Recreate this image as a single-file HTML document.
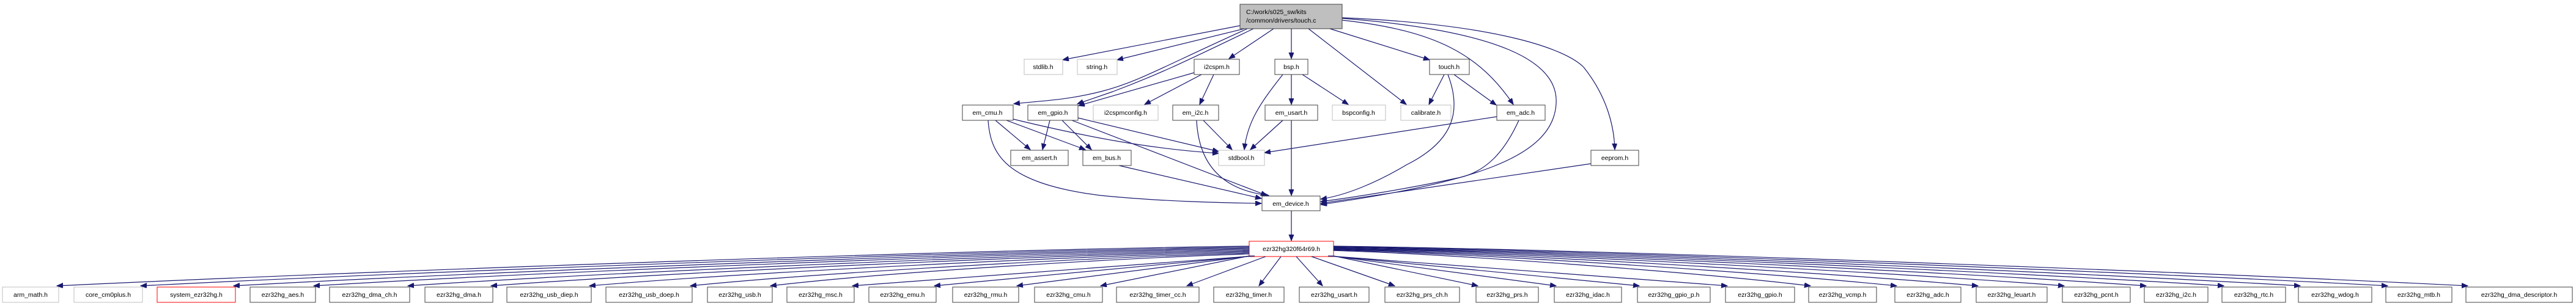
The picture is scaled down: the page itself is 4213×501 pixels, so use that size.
<!DOCTYPE html>
<html><head><meta charset="utf-8"><style>
html,body{margin:0;padding:0;background:#fff;}
svg{display:block}
text{font-family:"Liberation Sans",sans-serif;font-size:10.5px;fill:#000}
.e{fill:none;stroke:#191970;stroke-width:1.2}
.g{fill:#fff;stroke:#bfbfbf;stroke-width:1}
.b{fill:#fff;stroke:#404040;stroke-width:1}
.r{fill:#fff;stroke:#ff0000;stroke-width:1}
</style></head><body>
<svg id="s" width="4213" height="501" viewBox="0 0 4213 501" xmlns="http://www.w3.org/2000/svg">
<defs><marker id="a" markerUnits="userSpaceOnUse" markerWidth="11" markerHeight="9" refX="10" refY="4" orient="auto"><path d="M0,0 L10,4 L0,8 z" fill="#191970" stroke="#191970"/></marker></defs>
<g id="edges"></g>
<g id="nodes">
<rect x="2028" y="7" width="167" height="40" fill="#bfbfbf" stroke="#404040"/>
<text x="2038" y="23">C:/work/s025_sw/kits</text><text x="2038" y="37">/common/drivers/touch.c</text>
<rect class="g" x="1675" y="97" width="63" height="25"/><text x="1706" y="113" text-anchor="middle">stdlib.h</text>
<rect class="g" x="1762" y="97" width="65" height="25"/><text x="1794" y="113" text-anchor="middle">string.h</text>
<rect class="b" x="1953" y="97" width="74" height="25"/><text x="1990" y="113" text-anchor="middle">i2cspm.h</text>
<rect class="b" x="2085" y="97" width="54" height="25"/><text x="2112" y="113" text-anchor="middle">bsp.h</text>
<rect class="b" x="2338" y="97" width="65" height="25"/><text x="2370" y="113" text-anchor="middle">touch.h</text>
<rect class="b" x="1574" y="172" width="83" height="25"/><text x="1615" y="188" text-anchor="middle">em_cmu.h</text>
<rect class="b" x="1681" y="172" width="82" height="25"/><text x="1722" y="188" text-anchor="middle">em_gpio.h</text>
<rect class="g" x="1788" y="172" width="106" height="25"/><text x="1841" y="188" text-anchor="middle">i2cspmconfig.h</text>
<rect class="b" x="1918" y="172" width="75" height="25"/><text x="1955" y="188" text-anchor="middle">em_i2c.h</text>
<rect class="b" x="2069" y="172" width="86" height="25"/><text x="2112" y="188" text-anchor="middle">em_usart.h</text>
<rect class="g" x="2179" y="172" width="87" height="25"/><text x="2222" y="188" text-anchor="middle">bspconfig.h</text>
<rect class="g" x="2291" y="172" width="82" height="25"/><text x="2332" y="188" text-anchor="middle">calibrate.h</text>
<rect class="b" x="2448" y="172" width="79" height="25"/><text x="2487" y="188" text-anchor="middle">em_adc.h</text>
<rect class="b" x="1653" y="246" width="94" height="25"/><text x="1700" y="262" text-anchor="middle">em_assert.h</text>
<rect class="b" x="1771" y="246" width="79" height="25"/><text x="1810" y="262" text-anchor="middle">em_bus.h</text>
<rect class="g" x="1993" y="246" width="75" height="25"/><text x="2030" y="262" text-anchor="middle">stdbool.h</text>
<rect class="b" x="2602" y="246" width="78" height="25"/><text x="2641" y="262" text-anchor="middle">eeprom.h</text>
<rect class="b" x="2064" y="321" width="95" height="24"/><text x="2111" y="337" text-anchor="middle">em_device.h</text>
<rect class="r" x="2043" y="395" width="138" height="25"/><text x="2112" y="411" text-anchor="middle">ezr32hg320f64r69.h</text>
</g>
<g id="bottom"></g>
</svg>
<script>
var NS="http://www.w3.org/2000/svg";
function P(d,par){var p=document.createElementNS(NS,"path");p.setAttribute("d",d);p.setAttribute("class","e");p.setAttribute("marker-end","url(#a)");document.getElementById(par||"edges").appendChild(p);}
[
"M2028,42 L1738,98","M2035,47 L1827,98",
"M2040,47 C1900,110 1860,135 1800,150 S1700,165 1658,170",
"M2050,47 C1950,95 1900,120 1820,150 L1762,170",
"M1953,119 L1764,173",
"M2083,47 L2010,96","M2112,47 L2112,96","M2140,47 L2300,171","M2175,47 L2338,98",
"M2195,33 C2350,50 2420,90 2475,171",
"M2195,30 C2450,50 2550,100 2545,170 C2540,260 2400,300 2160,335",
"M2195,29 C2450,40 2560,80 2590,110 C2630,160 2640,210 2641,245",
"M1965,122 L1872,171","M1985,122 L1962,171",
"M2098,122 C2060,170 2040,200 2035,245","M2112,122 L2112,171","M2130,122 L2205,171",
"M1968,197 L2015,245","M1957,197 C1960,260 1990,310 2075,320",
"M2098,197 L2045,245","M2112,197 L2112,320",
"M1717,197 L1705,245","M1737,197 L1785,245","M1763,193 L1993,248","M1753,197 L2072,320",
"M1628,197 L1685,245","M1646,197 L1775,245","M1657,195 C1800,230 1900,245 1993,251",
"M1616,197 C1620,250 1640,300 1800,320 C1900,330 2000,332 2063,333",
"M1830,271 L2063,325",
"M2362,122 L2337,171","M2378,122 L2447,172",
"M2368,122 C2390,180 2380,230 2300,270 C2250,300 2200,320 2160,326",
"M2448,191 L2068,250",
"M2484,197 C2460,250 2430,280 2390,290 C2300,310 2200,325 2160,330",
"M2602,268 L2160,333","M2112,345 L2112,394"
].forEach(function(d){P(d);});
</script>
<script>
var B=[["arm_math.h",4,96,"g"],["core_cm0plus.h",121,233,"g"],["system_ezr32hg.h",257,385,"r"],["ezr32hg_aes.h",409,516],["ezr32hg_dma_ch.h",539,670],["ezr32hg_dma.h",695,806],["ezr32hg_usb_diep.h",829,967],["ezr32hg_usb_doep.h",991,1132],["ezr32hg_usb.h",1157,1263],["ezr32hg_msc.h",1287,1397],["ezr32hg_emu.h",1421,1531],["ezr32hg_rmu.h",1558,1666],["ezr32hg_cmu.h",1692,1803],["ezr32hg_timer_cc.h",1826,1961],["ezr32hg_timer.h",1985,2100],["ezr32hg_usart.h",2125,2239],["ezr32hg_prs_ch.h",2265,2387],["ezr32hg_prs.h",2414,2516],["ezr32hg_idac.h",2542,2652],["ezr32hg_gpio_p.h",2678,2797],["ezr32hg_gpio.h",2822,2935],["ezr32hg_vcmp.h",2958,3069],["ezr32hg_adc.h",3099,3207],["ezr32hg_leuart.h",3232,3348],["ezr32hg_pcnt.h",3373,3484],["ezr32hg_i2c.h",3507,3611],["ezr32hg_rtc.h",3634,3738],["ezr32hg_wdog.h",3759,3879],["ezr32hg_mtb.h",3902,4010],["ezr32hg_dma_descriptor.h",4033,4207]];
B.forEach(function(n,i){
 var l=n[1],r=n[2],ex,sx,sy,d,dist;
 if(r<1900){ex=r-3;dist=2043-ex;
  if(dist<700){sx=2043+ (12-i)*3; sy=419; d="M"+sx+","+sy+" L"+ex+",468";}
  else {sx=2043; sy=403+ (i)*1.6;
   d="M"+sx+","+sy+" C"+(sx-dist*0.25)+","+(sy+6)+" "+(ex+dist*0.25)+","+(445)+" "+ex+",468";}}
 else if(l>2400){ex=l+3;dist=ex-2181;
  if(dist<700){sx=2181-(i-17)*3; sy=419; d="M"+sx+","+sy+" L"+ex+",468";}
  else {sx=2181; sy=403+(29-i)*0.9;
   d="M"+sx+","+sy+" C"+(sx+dist*0.25)+","+(sy+6)+" "+(ex-dist*0.25)+","+(445)+" "+ex+",468";}}
 else {ex=(i==13)?r-20:(i==14?2059:(i==15?2163:l+16));sx=2070+(i-13)*25;
  d="M"+sx+",420 L"+ex+",468";}
 P(d,"bottom");
 var g=document.getElementById("bottom");
 var rc=document.createElementNS(NS,"rect");rc.setAttribute("x",l);rc.setAttribute("y",470);rc.setAttribute("width",r-l);rc.setAttribute("height",25);rc.setAttribute("class",n[3]||"b");g.appendChild(rc);
});
</script>
<div style="position:absolute;left:0;top:0;width:4213px;height:501px;pointer-events:none;font-family:'Liberation Sans',sans-serif;font-size:10.5px;">
<span style="position:absolute;top:477px;left:4px;width:92px;text-align:center">arm_math.h</span>
<span style="position:absolute;top:477px;left:121px;width:112px;text-align:center">core_cm0plus.h</span>
<span style="position:absolute;top:477px;left:257px;width:128px;text-align:center">system_ezr32hg.h</span>
<span style="position:absolute;top:477px;left:409px;width:107px;text-align:center">ezr32hg_aes.h</span>
<span style="position:absolute;top:477px;left:539px;width:131px;text-align:center">ezr32hg_dma_ch.h</span>
<span style="position:absolute;top:477px;left:695px;width:111px;text-align:center">ezr32hg_dma.h</span>
<span style="position:absolute;top:477px;left:829px;width:138px;text-align:center">ezr32hg_usb_diep.h</span>
<span style="position:absolute;top:477px;left:991px;width:141px;text-align:center">ezr32hg_usb_doep.h</span>
<span style="position:absolute;top:477px;left:1157px;width:106px;text-align:center">ezr32hg_usb.h</span>
<span style="position:absolute;top:477px;left:1287px;width:110px;text-align:center">ezr32hg_msc.h</span>
<span style="position:absolute;top:477px;left:1421px;width:110px;text-align:center">ezr32hg_emu.h</span>
<span style="position:absolute;top:477px;left:1558px;width:108px;text-align:center">ezr32hg_rmu.h</span>
<span style="position:absolute;top:477px;left:1692px;width:111px;text-align:center">ezr32hg_cmu.h</span>
<span style="position:absolute;top:477px;left:1826px;width:135px;text-align:center">ezr32hg_timer_cc.h</span>
<span style="position:absolute;top:477px;left:1985px;width:115px;text-align:center">ezr32hg_timer.h</span>
<span style="position:absolute;top:477px;left:2125px;width:114px;text-align:center">ezr32hg_usart.h</span>
<span style="position:absolute;top:477px;left:2265px;width:122px;text-align:center">ezr32hg_prs_ch.h</span>
<span style="position:absolute;top:477px;left:2414px;width:102px;text-align:center">ezr32hg_prs.h</span>
<span style="position:absolute;top:477px;left:2542px;width:110px;text-align:center">ezr32hg_idac.h</span>
<span style="position:absolute;top:477px;left:2678px;width:119px;text-align:center">ezr32hg_gpio_p.h</span>
<span style="position:absolute;top:477px;left:2822px;width:113px;text-align:center">ezr32hg_gpio.h</span>
<span style="position:absolute;top:477px;left:2958px;width:111px;text-align:center">ezr32hg_vcmp.h</span>
<span style="position:absolute;top:477px;left:3099px;width:108px;text-align:center">ezr32hg_adc.h</span>
<span style="position:absolute;top:477px;left:3232px;width:116px;text-align:center">ezr32hg_leuart.h</span>
<span style="position:absolute;top:477px;left:3373px;width:111px;text-align:center">ezr32hg_pcnt.h</span>
<span style="position:absolute;top:477px;left:3507px;width:104px;text-align:center">ezr32hg_i2c.h</span>
<span style="position:absolute;top:477px;left:3634px;width:104px;text-align:center">ezr32hg_rtc.h</span>
<span style="position:absolute;top:477px;left:3759px;width:120px;text-align:center">ezr32hg_wdog.h</span>
<span style="position:absolute;top:477px;left:3902px;width:108px;text-align:center">ezr32hg_mtb.h</span>
<span style="position:absolute;top:477px;left:4033px;width:174px;text-align:center">ezr32hg_dma_descriptor.h</span>
</div>
</body></html>
